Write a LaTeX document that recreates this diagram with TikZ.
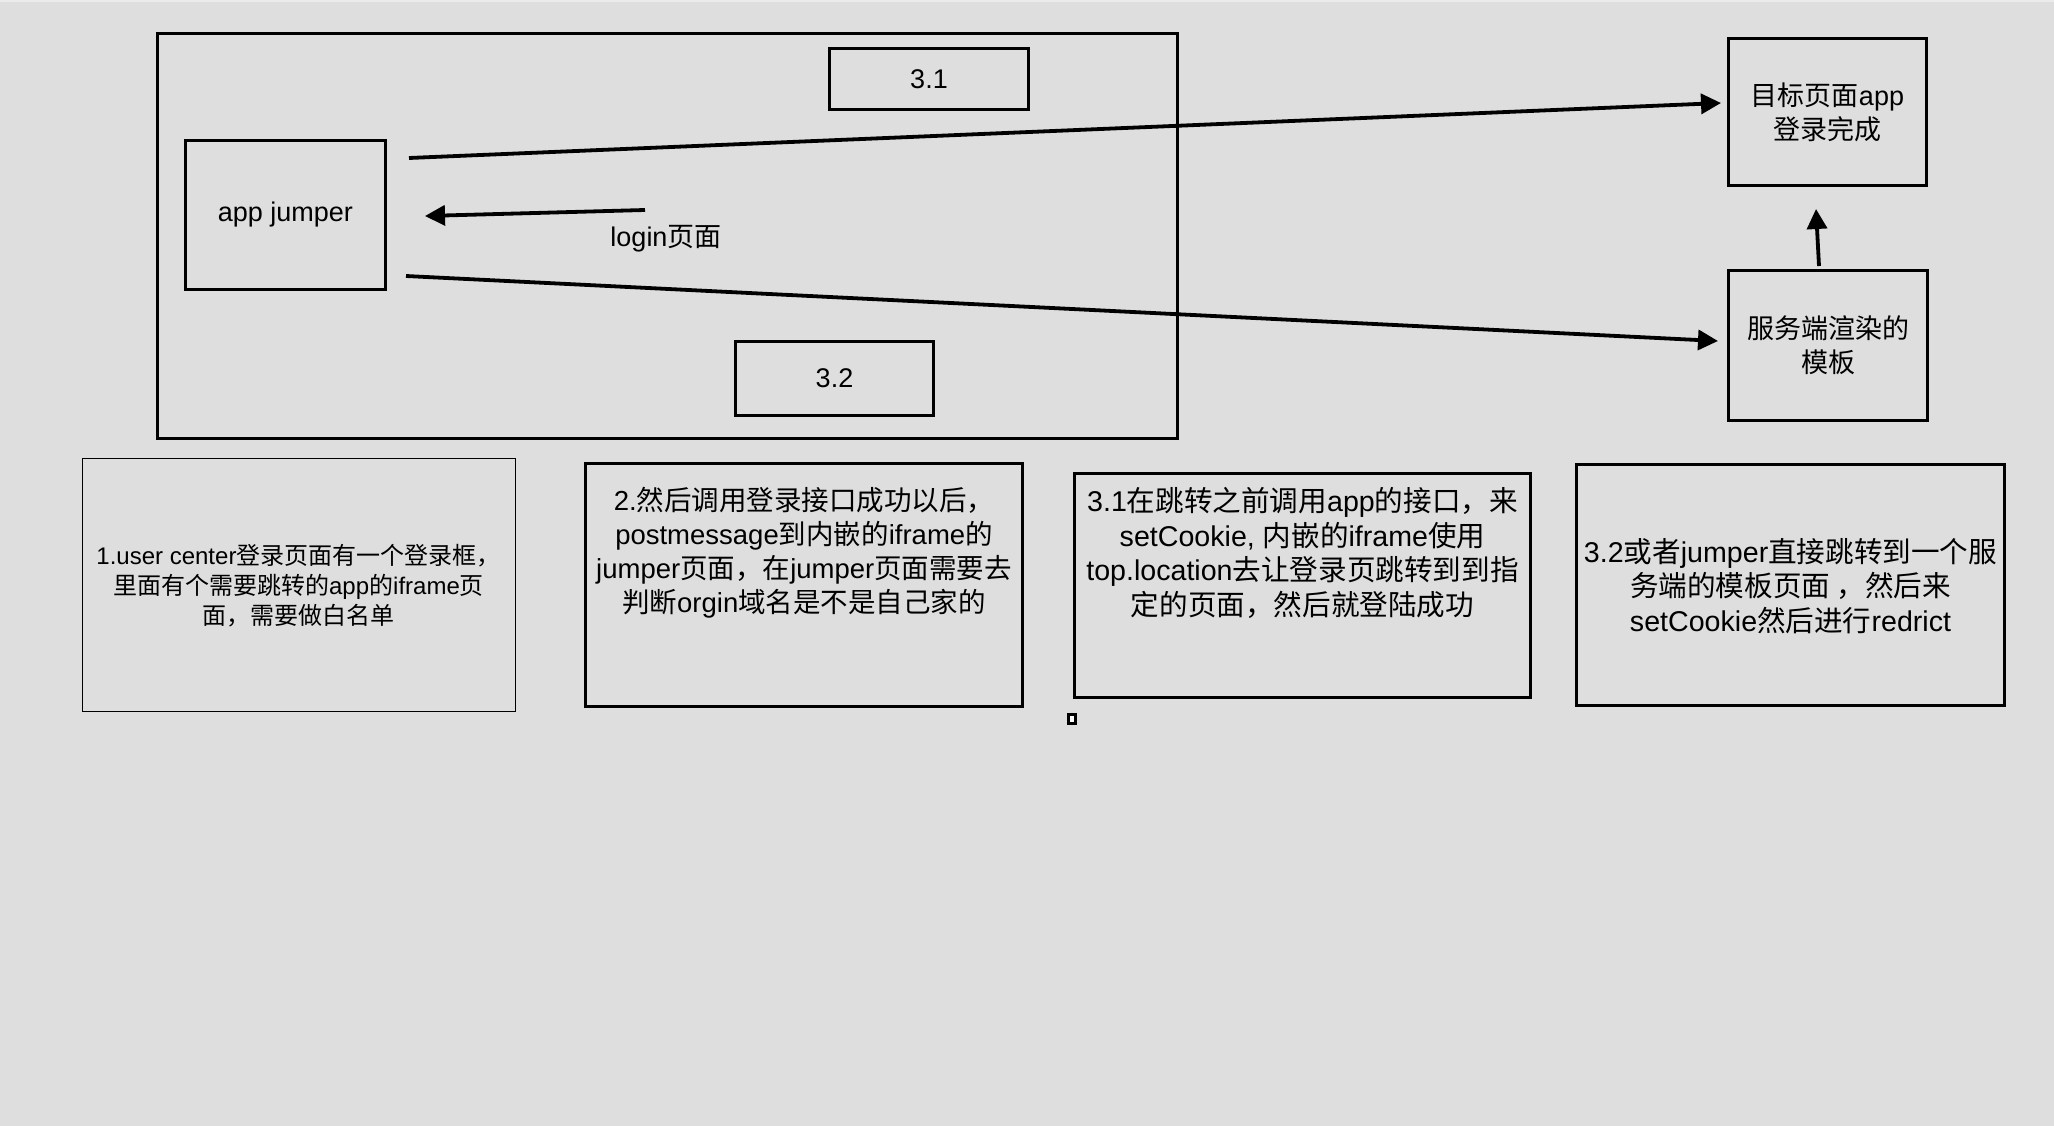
\documentclass[tikz,border=0pt]{standalone}
\usepackage{fontspec}
\setmainfont{Liberation Sans}
\newfontfamily\cjk{Noto Sans CJK SC}
\usetikzlibrary{arrows.meta}
\definecolor{bg}{HTML}{DEDEDE}
\definecolor{topband}{HTML}{EBEBEB}
\newcommand\zh[1]{{\cjk #1}}
\begin{document}
\begin{tikzpicture}[x=1pt,y=-1pt,
  box/.style={draw=black, line width=3.8pt, inner sep=0pt, align=center, font=\fontsize{27}{34}\selectfont},
  thinbox/.style={draw=black, line width=1pt, inner sep=0pt},
  txt/.style={align=center, inner sep=0pt, font=\fontsize{27.5}{34}\selectfont},
  bigtxt/.style={align=center, inner sep=0pt, font=\fontsize{28.6}{34.5}\selectfont},
  smalltxt/.style={align=center, inner sep=0pt, font=\fontsize{24}{30}\selectfont},
  arr/.style={line width=3.8pt, -{Triangle[length=20pt,width=20pt]}}]
\fill[bg] (0,0) rectangle (2054,1126);
\fill[topband] (0,0) rectangle (2054,2.5);
\useasboundingbox (0,0) rectangle (2054,1126);
% top group
\node[box, minimum width=1020pt, minimum height=405pt] (outer) at (667.5,236) {};
\node[box, minimum width=199pt, minimum height=61pt] (b31) at (929,79) {3.1};
\node[box, minimum width=200pt, minimum height=149pt] (jumper) at (285.5,215) {app jumper};
\node[box, minimum width=198pt, minimum height=74pt] (b32) at (834.5,378.5) {3.2};
\node[box, minimum width=198pt, minimum height=147pt] (target) at (1827.5,112) {\zh{目标页面}app\\\zh{登录完成}};
\node[box, minimum width=199pt, minimum height=150pt] (service) at (1828,345.5) {\zh{服务端渲染的}\\\zh{模板}};
\node[align=center, inner sep=0pt, font=\fontsize{27}{34}\selectfont] (login) at (666,239) {login\zh{页面}};
% connectors
\coordinate (s1) at (409,158); \coordinate (e1) at (1721,103);
\coordinate (s2) at (406,276); \coordinate (e2) at (1718,341);
\coordinate (s3) at (645,210); \coordinate (e3) at (425,216);
\coordinate (s4) at (1819,266); \coordinate (e4) at (1816,209);
\draw[arr] (s1) -- (e1);
\draw[arr] (s2) -- (e2);
\draw[arr] (s3) -- (e3);
\draw[arr] (s4) -- (e4);
% bottom boxes
\node[thinbox, minimum width=433pt, minimum height=253pt] (t1) at (298.5,584.5) {};
\node[smalltxt] (t1txt) at (298.5,586) {1.user center\zh{登录页面有一个登录框，}\\\zh{里面有个需要跳转的}app\zh{的}iframe\zh{页}\\\zh{面，需要做白名单}};
\node[box, minimum width=437pt, minimum height=243pt] (t2) at (804,585) {};
\node[txt] (t2txt) at (804,553) {2.\zh{然后调用登录接口成功以后，}\\postmessage\zh{到内嵌的}iframe\zh{的}\\jumper\zh{页面，在}jumper\zh{页面需要去}\\\zh{判断}orgin\zh{域名是不是自己家的}};
\node[box, minimum width=456pt, minimum height=224pt] (t3) at (1302.5,585.5) {};
\node[bigtxt] (t3txt) at (1302.5,553) {3.1\zh{在跳转之前调用}app\zh{的接口，来}\\setCookie, \zh{内嵌的}iframe\zh{使用}\\top.location\zh{去让登录页跳转到到指}\\\zh{定的页面，然后就登陆成功}};
\node[box, minimum width=428pt, minimum height=241pt] (t4) at (1790.5,585) {};
\node[bigtxt] (t4txt) at (1790.5,586) {3.2\zh{或者}jumper\zh{直接跳转到一个服}\\\zh{务端的模板页面 ，然后来}\\setCookie\zh{然后进行}redrict};
\node[draw=black, line width=3pt, fill=white, inner sep=0pt, minimum width=7pt, minimum height=9pt] (dot) at (1072,719) {};
\end{tikzpicture}
\end{document}
